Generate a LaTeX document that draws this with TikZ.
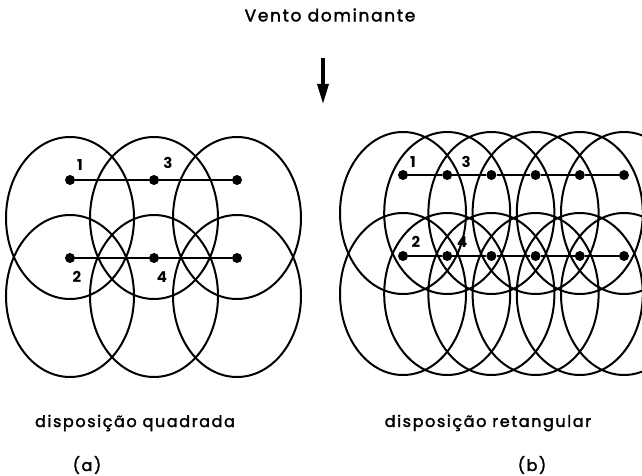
\documentclass[tikz,border=0pt]{standalone}
\usepackage{fontspec}
\setsansfont{Poppins}
\newfontfamily\capfont[LetterSpace=10,FakeBold=2]{Poppins}
\usetikzlibrary{arrows.meta,positioning}

\begin{document}
\begin{tikzpicture}[
    x=1pt,y=-1pt,
    font=\capfont\fontsize{16}{19}\selectfont,
    zone/.style={line width=2pt},
    pipe/.style={line width=2.8pt},
    sprk/.style={circle,fill,inner sep=0pt,minimum size=10pt},
    num/.style={font=\sffamily\bfseries\fontsize{15}{18}\selectfont,inner sep=0pt},
    caption/.style={inner sep=0pt}
  ]
    \useasboundingbox (0,0) rectangle (642,476);

    % Wind direction.
    \node[caption,font=\capfont\fontsize{17}{20}\selectfont] (title) at (330,15)
      {Vento dominante};
    \coordinate (windtop) at (323,58);
    \coordinate (windtip) at (323,104);
    \draw[-{Triangle[length=20pt,width=11pt]},line width=3.2pt]
      (windtop) -- (windtip);

    % (a) square layout.
    \foreach \i/\x in {1/70,3/154,5/237}
      \node[sprk] (a\i) at (\x,180) {};
    \foreach \i/\x in {2/70,4/154,6/237}
      \node[sprk] (a\i) at (\x,258) {};
    \foreach \n in {a1,a2,a3,a4,a5,a6}
      \draw[zone] ([yshift=-38pt]\n.center) ellipse [x radius=64pt,y radius=81pt];
    \draw[pipe] (a1) -- (a3) -- (a5);
    \draw[pipe] (a2) -- (a4) -- (a6);
    \node[num] at ([xshift=10pt,yshift=15pt]a1.center) {1};
    \node[num] at ([xshift=14pt,yshift=17pt]a3.center) {3};
    \node[num] at ([xshift=7pt,yshift=-19pt]a2.center) {2};
    \node[num] at ([xshift=8pt,yshift=-19pt]a4.center) {4};

    % (b) rectangular layout.
    \foreach \k in {1,...,6} {
      \node[sprk] (b\k) at ({403+44.2*(\k-1)},175) {};
      \node[sprk] (c\k) at ({403+44.2*(\k-1)},256) {};
      \draw[zone] ([yshift=-38pt]b\k.center) ellipse [x radius=63pt,y radius=81pt];
      \draw[zone] ([yshift=-38pt]c\k.center) ellipse [x radius=63pt,y radius=81pt];
    }
    \draw[pipe] (b1) -- (b2) -- (b3) -- (b4) -- (b5) -- (b6);
    \draw[pipe] (c1) -- (c2) -- (c3) -- (c4) -- (c5) -- (c6);
    \node[num] at ([xshift=10pt,yshift=13pt]b1.center) {1};
    \node[num] at ([xshift=19pt,yshift=13pt]b2.center) {3};
    \node[num] at ([xshift=13pt,yshift=14pt]c1.center) {2};
    \node[num] at ([xshift=15pt,yshift=14pt]c2.center) {4};

    % Captions.
    \node[caption] (capa) at (135,423) {disposição quadrada};
    \node[caption] (capb) at (488,423) {disposição retangular};
    \node[caption] (taga) at (87,465) {(a)};
    \node[caption] (tagb) at (532,465) {(b)};
  \end{tikzpicture}
\end{document}
